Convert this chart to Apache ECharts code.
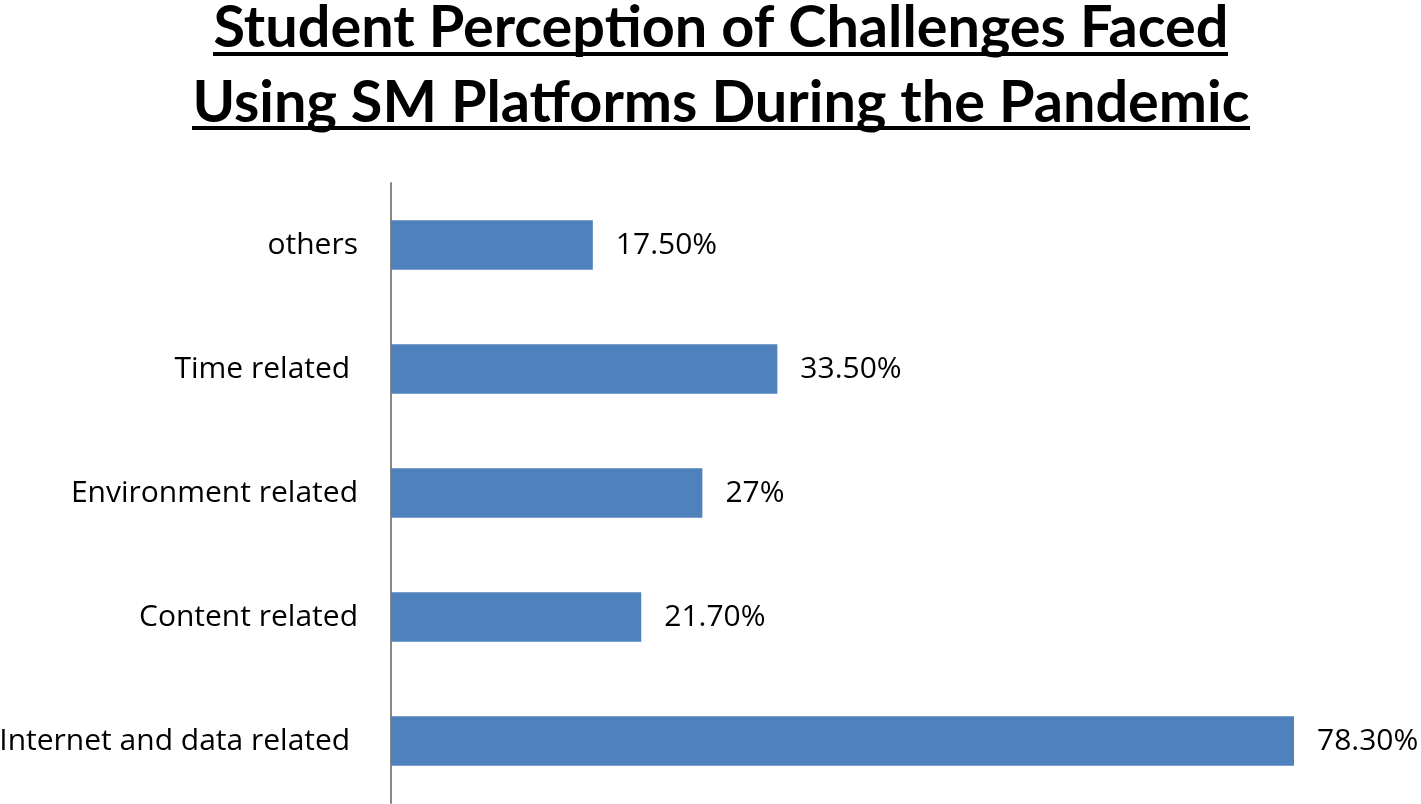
<!DOCTYPE html>
<html>
<head>
<meta charset="utf-8">
<script src="https://cdn.jsdelivr.net/npm/echarts@6/dist/echarts.min.js"></script>
<style>html,body{margin:0;padding:0;background:#fff}#c{width:1421px;height:804px}</style>
</head>
<body>
<div id="c"></div>
<script>
const titleLines = ['Student Perception of Challenges Faced', 'Using SM Platforms During the Pandemic'];
const categories = ['Internet and data related ', 'Content related', 'Environment related', 'Time related ', 'others'];
const values = [78.3, 21.7, 27, 33.5, 17.5];
const valueLabels = ['78.30%', '21.70%', '27%', '33.50%', '17.50%'];

const chart = echarts.init(document.getElementById('c'));
const TFONT = 'Lato, "Open Sans", sans-serif';
const FONT = '"Open Sans", Lato, sans-serif';
chart.setOption({
  backgroundColor: '#fff',
  animation: false,
  title: {
    text: titleLines.join('\n'),
    left: 721,
    textAlign: 'center',
    top: -9,
    padding: 0,
    textStyle: { fontFamily: TFONT, fontWeight: 'bold', fontSize: 57.6, lineHeight: 75, color: '#000' }
  },
  graphic: [
    { type: 'line', silent: true, shape: { x1: 213, y1: 54, x2: 1228, y2: 54 }, style: { stroke: '#000', lineWidth: 4 } },
    { type: 'line', silent: true, shape: { x1: 192, y1: 128, x2: 1250, y2: 128 }, style: { stroke: '#000', lineWidth: 4 } }
  ],
  grid: { left: 391, top: 183, bottom: 1, width: 922.6, containLabel: false, outerBoundsMode: 'none' },
  xAxis: {
    type: 'value', min: 0, max: 80,
    axisLine: { show: false }, axisTick: { show: false }, axisLabel: { show: false }, splitLine: { show: false }
  },
  yAxis: {
    type: 'category', data: categories,
    axisLine: { show: true, lineStyle: { color: '#888', width: 2 } },
    axisTick: { show: false },
    axisLabel: { fontFamily: FONT, fontSize: 30, color: '#000', margin: 33 }
  },
  series: [{
    type: 'bar',
    data: values,
    barWidth: '40%',
    itemStyle: { color: '#4F81BD' },
    label: {
      show: true, position: 'right', distance: 23,
      fontFamily: FONT, fontSize: 30, color: '#000',
      formatter: p => valueLabels[p.dataIndex]
    }
  }]
});
</script>
</body>
</html>
